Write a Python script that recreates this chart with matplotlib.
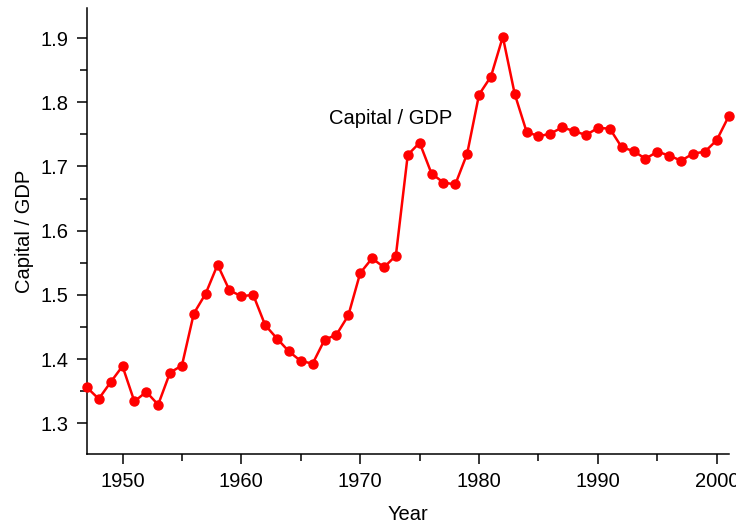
import matplotlib
matplotlib.use("Agg")
import matplotlib.pyplot as plt
from matplotlib.ticker import MultipleLocator

plt.rcParams['font.family'] = ['Liberation Sans', 'DejaVu Sans']

years = list(range(1947, 2002))
capital_gdp = [
    1.356, 1.338, 1.364, 1.389, 1.334, 1.349, 1.329, 1.379, 1.390, 1.471,
    1.502, 1.547, 1.507, 1.498, 1.500, 1.453, 1.432, 1.412, 1.397, 1.393,
    1.430, 1.438, 1.468, 1.534, 1.557, 1.543, 1.561, 1.718, 1.737, 1.689,
    1.675, 1.672, 1.720, 1.812, 1.840, 1.902, 1.813, 1.754, 1.747, 1.751,
    1.761, 1.755, 1.749, 1.760, 1.759, 1.730, 1.724, 1.712, 1.723, 1.717,
    1.709, 1.720, 1.723, 1.741, 1.778,
]
x_ticks = [1950, 1960, 1970, 1980, 1990, 2000]
y_ticks = [1.3, 1.4, 1.5, 1.6, 1.7, 1.8, 1.9]

fig = plt.figure(figsize=(7.36, 5.25), dpi=100)
ax = fig.add_axes([0.118, 0.135, 0.872, 0.85])

ax.plot(years, capital_gdp, color='#ff0000', lw=1.8, marker='o', ms=6.5,
        markeredgecolor='#ff0000', clip_on=False, zorder=3)

ax.set_xlim(1947, 2001)
ax.set_ylim(1.252, 1.947)
ax.set_xticks(x_ticks)
ax.set_yticks(y_ticks)
ax.set_yticklabels([f"{v:.1f}" for v in y_ticks])
ax.xaxis.set_minor_locator(MultipleLocator(5))
ax.yaxis.set_minor_locator(MultipleLocator(0.05))

for s in ['top', 'right']:
    ax.spines[s].set_visible(False)
for s in ['left', 'bottom']:
    ax.spines[s].set_linewidth(1.1)

ax.tick_params(which='major', direction='out', length=7, width=1.1, labelsize=14.5, pad=6)
ax.tick_params(which='minor', direction='out', length=5, width=1.1)

ax.set_xlabel('Year', fontsize=14.5, labelpad=10)
ax.set_ylabel('Capital / GDP', fontsize=14.5, labelpad=5)

ax.text(1967.4, 1.775, 'Capital / GDP', fontsize=14.5, ha='left', va='center')

fig.savefig('out.png', dpi=100)
